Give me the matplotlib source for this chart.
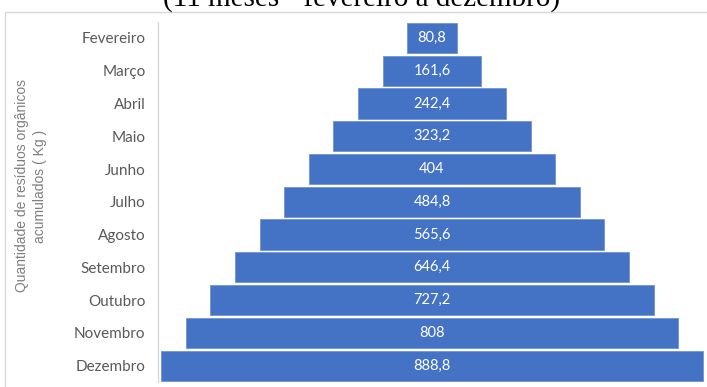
import matplotlib
matplotlib.use("Agg")
import matplotlib.pyplot as plt
from matplotlib.patches import Rectangle

months = ["Fevereiro", "Março", "Abril", "Maio", "Junho", "Julho",
          "Agosto", "Setembro", "Outubro", "Novembro", "Dezembro"]
values = [80.8, 161.6, 242.4, 323.2, 404, 484.8, 565.6, 646.4, 727.2, 808, 888.8]
value_labels = ["80,8", "161,6", "242,4", "323,2", "404", "484,8",
                "565,6", "646,4", "727,2", "808", "888,8"]
title = "(11 meses - fevereiro a dezembro)"
ylabel = "Quantidade de resíduos orgânicos\nacumulados ( Kg )"

W, H = 707, 387
fig = plt.figure(figsize=(W / 100, H / 100), dpi=100)
fig.patch.set_facecolor("white")

# light chart frame
fig.add_artist(Rectangle((5 / W, -0.01), 1.0, (H - 11.5) / H + 0.01,
                         transform=fig.transFigure, fill=False,
                         edgecolor="#d9d9d9", linewidth=1.0))

ax = fig.add_axes([158 / W, 5 / H, (706 - 158) / W, (382 - 21.6) / H])
positions = list(range(len(months)))
lefts = [-v / 2 for v in values]
ax.barh(positions, values, left=lefts, height=0.92, color="#4472C4",
        edgecolor="#6f93d3", linewidth=0.6)
for p, v, lab in zip(positions, values, value_labels):
    ax.text(0, p, lab, ha="center", va="center", color="white",
            fontsize=10.5, family="Lato")

half = max(values) / 2 * 548 / 542
ax.set_xlim(-half, half)
ax.set_ylim(len(months) - 0.5, -0.5)
ax.set_yticks(positions)
ax.set_yticklabels(months, family="Lato", fontsize=11, color="#595959")
ax.tick_params(axis="y", length=0, pad=9)
ax.set_xticks([])
for s in ("top", "right", "bottom"):
    ax.spines[s].set_visible(False)
ax.spines["left"].set_color("#d9d9d9")
ax.spines["left"].set_linewidth(1.0)

fig.text(31 / W, 1 - 186 / H, ylabel, rotation=90, ha="center", va="center",
         family="Liberation Sans", fontsize=10, color="#7f7f7f",
         linespacing=1.3)

fig.text(362 / W, 1 - 6.5 / H, title, ha="center", va="baseline",
         family="Liberation Serif", fontsize=21, color="black")

fig.savefig("out.png", dpi=100)
